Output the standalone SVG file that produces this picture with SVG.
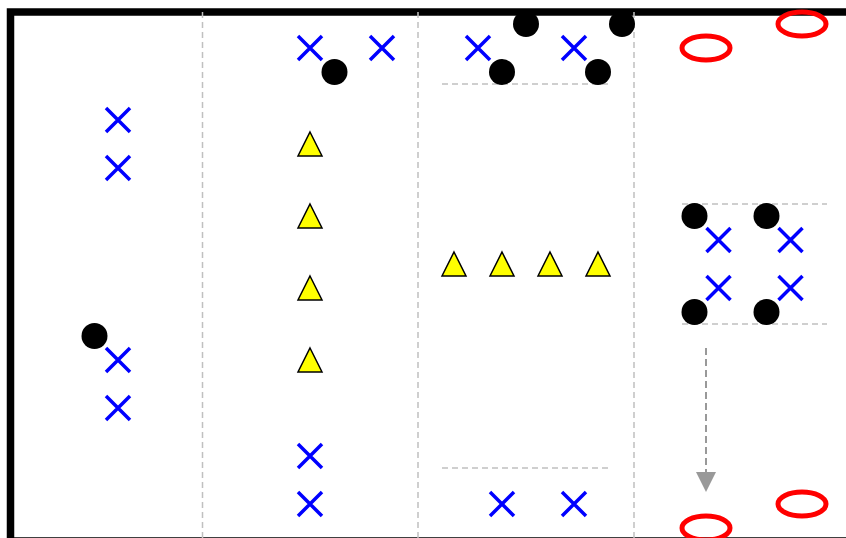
<svg xmlns="http://www.w3.org/2000/svg" width="846" height="538" viewBox="0 0 846 538">
<defs>
<style>
.x{stroke:#0000ff;stroke-width:3.5;fill:none}
.dot{fill:#000}
.tri{fill:#ffff00;stroke:#000;stroke-width:1.5;stroke-linejoin:miter}
.ring{fill:none;stroke:#ff0000;stroke-width:5}
.dash{stroke:#c0c0c0;stroke-width:1.5;stroke-dasharray:6,4;fill:none}
</style>
<g id="X"><path d="M-12,-12L12,12M12,-12L-12,12"/></g>
<path id="T" d="M0,-12L12,12L-12,12Z"/>
<marker id="ah" viewBox="0 0 10 10" refX="10" refY="5" markerWidth="10" markerHeight="10" markerUnits="userSpaceOnUse" orient="auto">
<path d="M0,0L10,5L0,10Z" fill="#999"/>
</marker>
</defs>
<rect x="0" y="0" width="846" height="538" fill="#fff"/>
<rect x="10.5" y="12" width="850" height="529" fill="none" stroke="#000" stroke-width="7.5"/>
<g id="lanes">
<line class="dash" x1="202.5" y1="12" x2="202.5" y2="538"/>
<line class="dash" x1="418" y1="12" x2="418" y2="538"/>
<line class="dash" x1="634" y1="12" x2="634" y2="538"/>
<line class="dash" x1="442" y1="84" x2="611" y2="84"/>
<line class="dash" x1="442" y1="468" x2="611" y2="468"/>
<line class="dash" x1="682" y1="204" x2="827" y2="204"/>
<line class="dash" x1="682" y1="324" x2="827" y2="324"/>
</g>
<g id="connectors">
<line x1="706" y1="348" x2="706" y2="472" stroke="#999" stroke-width="2" stroke-dasharray="7,4"/>
<path d="M696,472L716,472L706,492Z" fill="#999"/>
</g>
<g id="col1">
<use href="#X" class="x" x="118" y="120"/>
<use href="#X" class="x" x="118" y="168"/>
<use href="#X" class="x" x="118" y="360"/>
<use href="#X" class="x" x="118" y="408"/>
<circle class="dot" cx="94.5" cy="336" r="13"/>
</g>
<g id="col2">
<use href="#X" class="x" x="310" y="48"/>
<use href="#X" class="x" x="382" y="48"/>
<circle class="dot" cx="334.5" cy="72" r="13"/>
<use href="#T" class="tri" x="310" y="144"/>
<use href="#T" class="tri" x="310" y="216"/>
<use href="#T" class="tri" x="310" y="288"/>
<use href="#T" class="tri" x="310" y="360"/>
<use href="#X" class="x" x="310" y="456"/>
<use href="#X" class="x" x="310" y="504"/>
</g>
<g id="col3">
<use href="#X" class="x" x="478" y="48"/>
<use href="#X" class="x" x="574" y="48"/>
<circle class="dot" cx="502" cy="72" r="13"/>
<circle class="dot" cx="598" cy="72" r="13"/>
<circle class="dot" cx="526" cy="24" r="13"/>
<circle class="dot" cx="622" cy="24" r="13"/>
<use href="#T" class="tri" x="454" y="264"/>
<use href="#T" class="tri" x="502" y="264"/>
<use href="#T" class="tri" x="550" y="264"/>
<use href="#T" class="tri" x="598" y="264"/>
<use href="#X" class="x" x="502" y="504"/>
<use href="#X" class="x" x="574" y="504"/>
</g>
<g id="col4">
<ellipse class="ring" cx="706" cy="48" rx="24" ry="12"/>
<ellipse class="ring" cx="802" cy="24" rx="24" ry="12"/>
<ellipse class="ring" cx="706" cy="528" rx="24" ry="12"/>
<ellipse class="ring" cx="802" cy="504" rx="24" ry="12"/>
<circle class="dot" cx="694.5" cy="216" r="13"/>
<circle class="dot" cx="766.5" cy="216" r="13"/>
<circle class="dot" cx="694.5" cy="312" r="13"/>
<circle class="dot" cx="766.5" cy="312" r="13"/>
<use href="#X" class="x" x="718.5" y="240"/>
<use href="#X" class="x" x="790.5" y="240"/>
<use href="#X" class="x" x="718.5" y="288"/>
<use href="#X" class="x" x="790.5" y="288"/>
</g>
</svg>
